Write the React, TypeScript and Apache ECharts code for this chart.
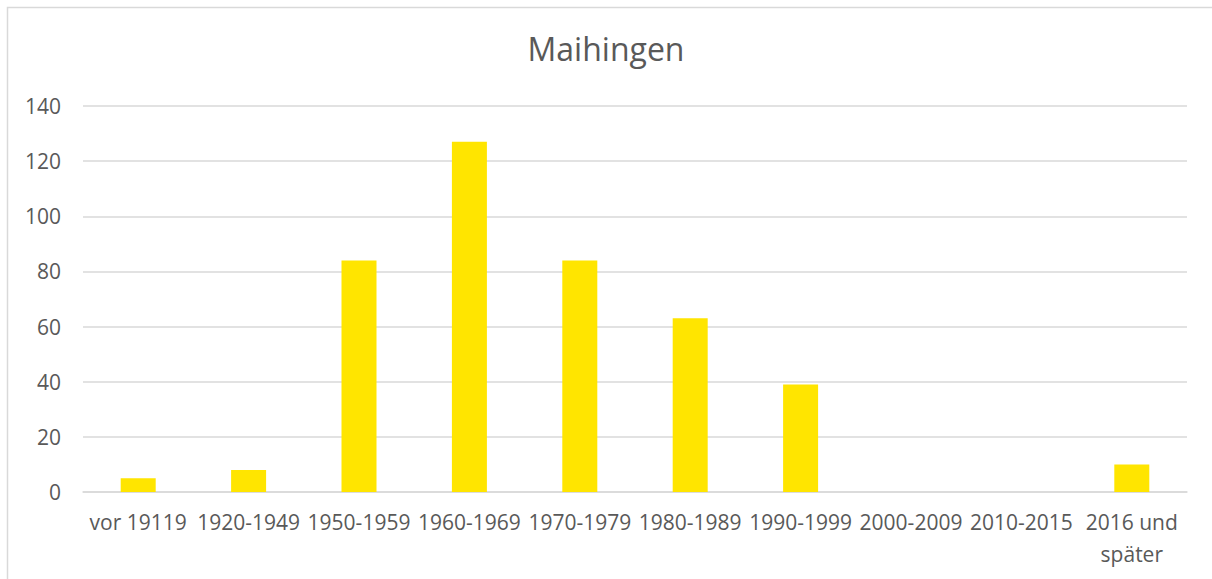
import React, { useEffect, useRef } from "react";
import * as echarts from "echarts";

const categories = [
  "vor 19119",
  "1920-1949",
  "1950-1959",
  "1960-1969",
  "1970-1979",
  "1980-1989",
  "1990-1999",
  "2000-2009",
  "2010-2015",
  "2016 und\nspäter",
];
const values = [5, 8, 84, 127, 84, 63, 39, 0, 0, 10];
const titleText = "Maihingen";

export default function App() {
  const ref = useRef<HTMLDivElement>(null);
  useEffect(() => {
    const chart = echarts.init(ref.current!, null, { renderer: "svg" });
    const font = "'Open Sans', 'Liberation Sans', sans-serif";
    chart.setOption({
      animation: false,
      backgroundColor: "#ffffff",
      title: {
        text: titleText,
        left: "center",
        top: 27,
        textStyle: { fontFamily: font, fontSize: 32, fontWeight: "normal", color: "#595959" },
      },
      graphic: [
        {
          type: "rect",
          shape: { x: 7.5, y: 7.5, width: 1230, height: 620 },
          style: { fill: "none", stroke: "#d9d9d9", lineWidth: 1.5 },
          silent: true,
        },
      ],
      grid: { left: 83, right: 25, top: 106, bottom: 87, containLabel: false },
      xAxis: {
        type: "category",
        data: categories,
        axisLine: { show: true, lineStyle: { color: "#d9d9d9", width: 1.5 } },
        axisTick: { show: false },
        axisLabel: {
          fontFamily: font,
          fontSize: 21,
          color: "#595959",
          margin: 14,
          interval: 0,
          lineHeight: 32,
        },
      },
      yAxis: {
        type: "value",
        min: 0,
        max: 140,
        interval: 20,
        axisLine: { show: false },
        axisTick: { show: false },
        splitLine: { lineStyle: { color: "#d9d9d9", width: 1.5 } },
        axisLabel: { fontFamily: font, fontSize: 21, color: "#595959", margin: 22 },
      },
      series: [
        {
          type: "bar",
          data: values,
          barWidth: 35,
          itemStyle: { color: "#FFE500" },
        },
      ],
    });
    return () => chart.dispose();
  }, []);
  return (
    <div
      ref={ref}
      style={{ position: "absolute", left: 0, top: 0, width: 1212, height: 579 }}
    />
  );
}
